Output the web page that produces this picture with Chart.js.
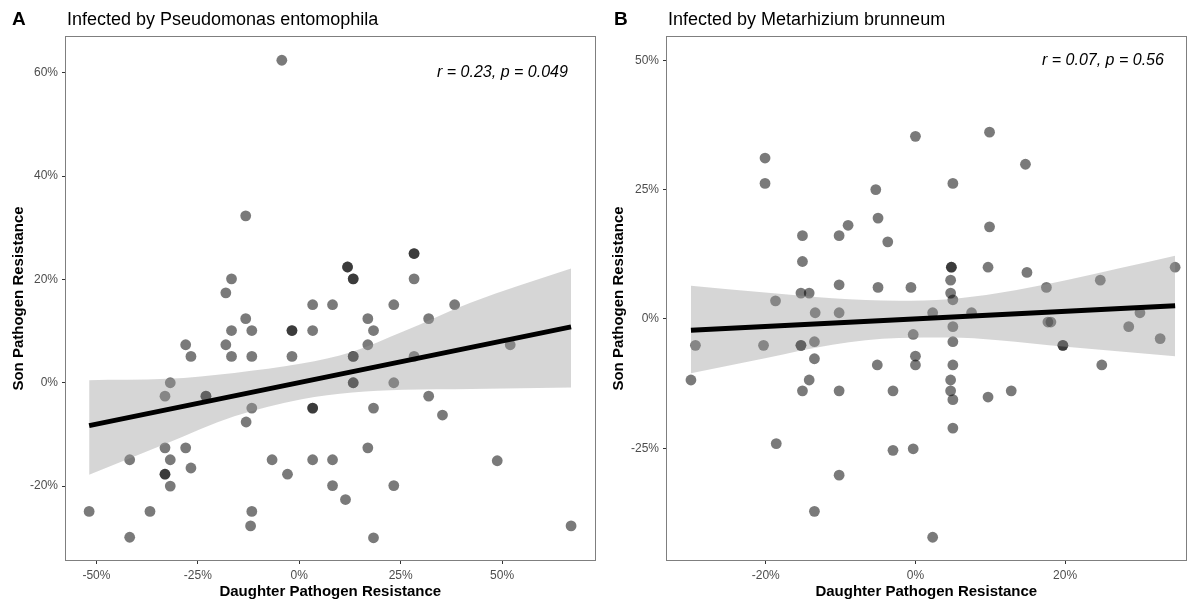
<!DOCTYPE html>
<html>
<head>
<meta charset="utf-8">
<script src="https://cdn.jsdelivr.net/npm/chart.js@4.4.0/dist/chart.umd.min.js"></script>
<style>
  html, body { margin: 0; padding: 0; background: #fff; }
  #wrap { position: relative; width: 1191px; height: 599px; }
  #wrap canvas { position: absolute; top: 0; }
  #c-pe { left: 0; }
  #c-mb { left: 600px; }
</style>
</head>
<body>
<div id="wrap">
  <canvas id="c-pe" width="600" height="599"></canvas>
  <canvas id="c-mb" width="591" height="599"></canvas>
</div>
<script>
// --- Pseudomonas entomophila (panel A), values in % ---
const peDaughter = [
  -4.3,
  -13.2,
  28.3, 28.3,
  11.9, 11.9,
  -16.7, 13.3, 13.3, 28.3,
  -18.1,
  3.3, 8.2, 23.3, 38.3,
  -13.2, 16.9, 31.9,
  -16.7, -11.7, -1.8, -1.8, 3.3, 18.3,
  -28.0, -18.1, 16.9, 52.0,
  -26.7, -16.7, -11.7, -1.8, 13.3, 13.3, 28.3,
  -31.8, 13.3, 13.3, 23.3,
  -33.1, -23.0, -23.0, 31.9,
  -11.7, 3.3, 3.3, 18.3,
  35.3,
  -13.1,
  -33.1, -28.0, 16.9,
  -41.8, -31.8, -6.7, 3.3, 8.2,
  48.8,
  -26.7,
  -33.1, -33.1, -2.9,
  -31.8, 8.2, 23.3,
  11.4,
  -51.8, -36.8, -11.7,
  -12.0, 67.0,
  -41.8, 18.3
];
const peSon = [
  62.4,
  32.3,
  25.0, 25.0,
  22.4, 22.4,
  20.1, 20.1, 20.1, 20.1,
  17.4,
  15.1, 15.1, 15.1, 15.1,
  12.4, 12.4, 12.4,
  10.1, 10.1, 10.1, 10.1, 10.1, 10.1,
  7.35, 7.35, 7.35, 7.35,
  5.1, 5.1, 5.1, 5.1, 5.1, 5.1, 5.1,
  0, 0, 0, 0,
  -2.6, -2.6, -2.6, -2.6,
  -4.9, -4.9, -4.9, -4.9,
  -6.25,
  -7.6,
  -12.6, -12.6, -12.6,
  -14.9, -14.9, -14.9, -14.9, -14.9,
  -15.1,
  -16.5,
  -17.7, -17.7, -17.7,
  -20.0, -19.9, -19.9,
  -22.6,
  -24.9, -24.9, -24.9,
  -27.7, -27.7,
  -29.9, -30.0
];
// regression line and its confidence band
const peFitX = [-51.8, 67.0];
const peFitY = [-8.3, 10.8];
const peBandX = [-51.8, -32.6, -16.0, 0.6, 13.1, 25.6, 42.2, 67.0];
const peBandHi = [0.5, 0.75, 1.9, 3.7, 6.0, 9.9, 15.5, 22.1];
const peBandLo = [-17.8, -11.7, -6.5, -3.2, -1.9, -1.35, -1.2, -0.9];
const peXTicks = [-50, -25, 0, 25, 50];
const peYTicks = [-20, 0, 20, 40, 60];

// --- Metarhizium brunneum (panel B), values in % ---
const mbDaughter = [
  9.9,
  0.0,
  -20.1,
  14.7,
  -20.1, 5.0,
  -5.3,
  -5.0,
  -9.0,
  9.9,
  -15.1, -10.2,
  -3.7,
  -15.1,
  4.8, 4.8, 9.7, 34.7,
  14.9,
  4.7, 24.7,
  -10.2,
  -5.0, -0.6, 17.5,
  -15.3, -14.2, 4.7,
  5.0,
  -18.7,
  -13.4, -10.2, 2.3, 7.5, 30.0,
  17.7, 18.1,
  5.0, 28.5,
  -0.3,
  32.7,
  -13.5, 5.0,
  -29.4, -20.3, -15.3, -15.3, 19.7, 19.7,
  0.0,
  -13.5,
  -5.1, 0.0, 5.0, 24.9,
  -30.0, -14.2, 4.7,
  -15.1, -10.2, -3.0, 4.7, 12.8,
  9.7,
  5.0,
  5.0,
  -18.6,
  -0.3,
  -3.0,
  -10.2,
  -13.5,
  2.3
];
const mbSon = [
  36.1,
  35.3,
  31.1,
  29.9,
  26.2, 26.2,
  25.0,
  19.5,
  18.1,
  17.8,
  16.1, 16.1,
  14.9,
  11.1,
  10.0, 10.0, 10.0, 10.0,
  9.0,
  7.5, 7.5,
  6.6,
  6.1, 6.1, 6.1,
  5.0, 5.0, 5.0,
  3.7,
  3.5,
  1.2, 1.2, 1.2, 1.2, 1.2,
  -0.6, -0.6,
  -1.5, -1.5,
  -3.0,
  -3.8,
  -4.4, -4.4,
  -5.1, -5.1, -5.1, -5.1, -5.1, -5.1,
  -7.2,
  -7.7,
  -8.9, -8.9, -8.9, -8.9,
  -11.8, -11.8, -11.8,
  -13.9, -13.9, -13.9, -13.9, -13.9,
  -15.1,
  -15.6,
  -21.1,
  -24.1,
  -25.1,
  -25.4,
  -30.2,
  -37.2,
  -42.2
];
const mbFitX = [-30.0, 34.7];
const mbFitY = [-2.2, 2.57];
const mbBandX = [-30.0, -20.1, -11.1, -2.2, 4.5, 11.1, 20.1, 34.7];
const mbBandHi = [6.4, 5.1, 4.0, 3.5, 3.8, 5.0, 7.5, 12.2];
const mbBandLo = [-10.5, -7.6, -5.0, -3.7, -3.6, -4.1, -5.4, -7.2];
const mbXTicks = [-20, 0, 20];
const mbYTicks = [-25, 0, 25, 50];

const FONT = '"Liberation Sans", Arial, Helvetica, sans-serif';

function toPts(xs, ys) {
  return xs.map((x, i) => ({ x: x, y: ys[i] }));
}

// panel frame, letter + heading, and the r/p label
const panelText = {
  id: 'panelText',
  afterDraw(chart, args, o) {
    const ctx = chart.ctx, a = chart.chartArea;
    ctx.save();
    ctx.strokeStyle = '#7f7f7f'; ctx.lineWidth = 1;
    ctx.strokeRect(Math.round(a.left) - 0.5, Math.round(a.top) - 0.5,
                   Math.round(a.right - a.left) + 1, Math.round(a.bottom - a.top) + 1);

    ctx.fillStyle = '#000'; ctx.textAlign = 'left'; ctx.textBaseline = 'alphabetic';
    ctx.font = 'bold 19px ' + FONT;
    ctx.fillText(o.letter, o.letterX, 25);
    ctx.font = '18px ' + FONT;
    ctx.fillText(o.title, a.left + 1, 25);

    ctx.font = 'italic 16px ' + FONT;
    ctx.textAlign = 'right'; ctx.textBaseline = 'middle';
    ctx.fillText(o.note, chart.scales.x.getPixelForValue(o.noteX), chart.scales.y.getPixelForValue(o.noteY));
    ctx.restore();
  }
};

function axis(min, max, ticks, title, fit, titlePad) {
  return {
    type: 'linear', min: min, max: max,
    afterBuildTicks: s => { s.ticks = ticks.map(v => ({ value: v })); },
    afterFit: fit,
    border: { display: false },
    grid: { drawOnChartArea: false, drawTicks: true, tickLength: 4, color: '#333' },
    ticks: {
      autoSkip: false, maxRotation: 0, padding: 4,
      color: '#4d4d4d', font: { family: FONT, size: 12 },
      callback: v => v + '%'
    },
    title: {
      display: true, text: title, color: '#000',
      font: { family: FONT, size: 15, weight: 'bold' },
      padding: titlePad
    }
  };
}

function makePanel(id, p) {
  return new Chart(document.getElementById(id), {
    type: 'scatter',
    data: {
      datasets: [
        { data: toPts(p.fitX, p.fitY), showLine: true, borderColor: '#000', borderWidth: 5,
          pointRadius: 0, order: 0 },
        { data: toPts(p.bandX, p.hi), showLine: true, borderColor: 'rgba(0,0,0,0)', borderWidth: 1,
          pointRadius: 0, cubicInterpolationMode: 'monotone',
          fill: '+1', backgroundColor: 'rgba(153,153,153,0.4)', order: 1 },
        { data: toPts(p.bandX, p.lo), showLine: true, borderColor: 'rgba(0,0,0,0)', borderWidth: 1,
          pointRadius: 0, cubicInterpolationMode: 'monotone', order: 2 },
        { data: toPts(p.xs, p.ys), pointRadius: 5.4, pointBorderWidth: 0,
          pointBackgroundColor: 'rgba(0,0,0,0.52)', order: 3 }
      ]
    },
    options: {
      responsive: false, maintainAspectRatio: false, animation: false, devicePixelRatio: 1,
      layout: { padding: { top: 37, right: p.padRight, left: 0, bottom: 0 } },
      scales: {
        x: axis(p.xMin, p.xMax, p.xTicks, 'Daughter Pathogen Resistance', s => { s.height = 39; },
                { top: 0, bottom: -2 }),
        y: axis(p.yMin, p.yMax, p.yTicks, 'Son Pathogen Resistance', s => { s.width = p.yAxisW; },
                { top: 10, bottom: 0 })
      },
      plugins: {
        legend: { display: false },
        tooltip: { enabled: false },
        panelText: p.text
      }
    },
    plugins: [panelText]
  });
}

makePanel('c-pe', {
  xs: peDaughter, ys: peSon, fitX: peFitX, fitY: peFitY,
  bandX: peBandX, hi: peBandHi, lo: peBandLo,
  xMin: -57.5, xMax: 72.8, yMin: -34.3, yMax: 66.9,
  xTicks: peXTicks, yTicks: peYTicks, yAxisW: 66, padRight: 2,
  text: { letter: 'A', letterX: 12, title: 'Infected by Pseudomonas entomophila',
          note: 'r = 0.23, p = 0.049', noteX: 66.2, noteY: 60 }
});

makePanel('c-mb', {
  xs: mbDaughter, ys: mbSon, fitX: mbFitX, fitY: mbFitY,
  bandX: mbBandX, hi: mbBandHi, lo: mbBandLo,
  xMin: -33.2, xMax: 36.1, yMin: -46.6, yMax: 54.5,
  xTicks: mbXTicks, yTicks: mbYTicks, yAxisW: 67, padRight: 5,
  text: { letter: 'B', letterX: 14, title: 'Infected by Metarhizium brunneum',
          note: 'r = 0.07, p = 0.56', noteX: 33.2, noteY: 50 }
});
</script>
</body>
</html>
